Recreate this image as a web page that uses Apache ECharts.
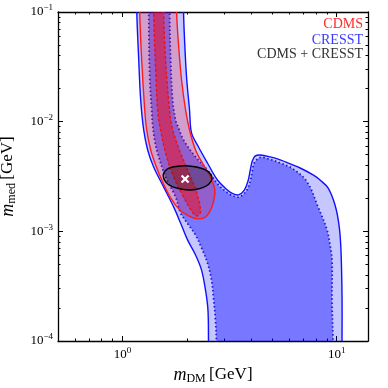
<!DOCTYPE html>
<html>
<head>
<meta charset="utf-8">
<script src="https://cdn.jsdelivr.net/npm/echarts@6/dist/echarts.min.js"></script>
<style>
  html, body { margin: 0; padding: 0; background: #fff; }
  #chart { width: 388px; height: 388px; }
</style>
</head>
<body>
<div id="chart"></div>
<script>
// tick values
const xMajorTicks = [1, 10];
const xMinorTicks = [0.5, 0.6, 0.7, 0.8, 0.9, 2, 3, 4, 5, 6, 7, 8, 9];
const yMajorTicks = [1e-4, 1e-3, 1e-2, 1e-1];
const yMinorTicks = [2e-4, 3e-4, 4e-4, 5e-4, 6e-4, 7e-4, 8e-4, 9e-4,
                     2e-3, 3e-3, 4e-3, 5e-3, 6e-3, 7e-3, 8e-3, 9e-3,
                     2e-2, 3e-2, 4e-2, 5e-2, 6e-2, 7e-2, 8e-2, 9e-2];

// CRESST 2 sigma region  [m_DM (GeV), m_med (GeV)]
const cresstOuter = [
  [1.165, 0.2], [1.166, 0.1], [1.191, 0.0365], [1.216, 0.0158], [1.256, 0.0084],
  [1.311, 0.00552], [1.398, 0.00386], [1.556, 0.00254], [1.733, 0.00167], [1.867, 0.00119],
  [2.012, 0.000835], [2.193, 0.000609], [2.338, 0.000445], [2.44, 0.000292], [2.506, 0.000192],
  [2.52, 0.0001], [2.52, 0.00005], [10.59, 0.00005], [10.59, 0.0001], [10.59, 0.000252],
  [10.47, 0.000677], [10.25, 0.001144], [9.82, 0.00174], [9.11, 0.002487], [8.36, 0.00294],
  [7.758, 0.00327], [6.751, 0.00378], [6.066, 0.00412], [5.449, 0.00448], [4.895, 0.00477],
  [4.399, 0.00497], [4.169, 0.00487], [4.036, 0.00438], [3.951, 0.00363], [3.867, 0.00294],
  [3.706, 0.00238], [3.475, 0.00215], [3.258, 0.002215], [3.089, 0.00238], [2.776, 0.00294],
  [2.493, 0.0042], [2.264, 0.00588], [2.101, 0.00789], [2.056, 0.01279], [1.991, 0.02556],
  [1.949, 0.0556], [1.928, 0.1], [1.928, 0.2]
];

// CRESST 1 sigma region
const cresstInner = [
  [1.326, 0.2], [1.326, 0.1], [1.34, 0.02556], [1.369, 0.01279], [1.383, 0.00933],
  [1.413, 0.00681], [1.459, 0.00518], [1.59, 0.00313], [1.77, 0.00206], [1.867, 0.00147],
  [2.034, 0.001144], [2.193, 0.000927], [2.338, 0.000706], [2.493, 0.000515], [2.603, 0.000361],
  [2.659, 0.000252], [2.716, 0.000156], [2.745, 0.0001], [2.745, 0.00005], [9.611, 0.00005],
  [9.611, 0.0001], [9.508, 0.000237], [9.508, 0.000548], [9.307, 0.000752], [9.013, 0.00103],
  [8.185, 0.00167], [7.276, 0.00282], [6.264, 0.0037], [5.449, 0.0042], [4.895, 0.00452],
  [4.399, 0.00472], [4.124, 0.0042], [4.036, 0.00356], [3.951, 0.00288], [3.786, 0.002335],
  [3.513, 0.00206], [3.294, 0.0021], [3.056, 0.00229], [2.805, 0.00265], [2.493, 0.00363],
  [2.193, 0.00477], [1.928, 0.00681], [1.827, 0.00876], [1.77, 0.01036], [1.714, 0.01577],
  [1.678, 0.0365], [1.66, 0.1], [1.66, 0.2]
];

// CDMS 2 sigma region
const cdmsOuter = [
  [1.203, 0.2], [1.203, 0.1], [1.229, 0.0365], [1.27, 0.01279], [1.297, 0.0084],
  [1.354, 0.00552], [1.428, 0.00403], [1.539, 0.00282], [1.678, 0.002016], [1.847, 0.00157],
  [2.034, 0.001382], [2.24, 0.0013], [2.44, 0.00135], [2.603, 0.001634], [2.688, 0.00206],
  [2.688, 0.002487], [2.575, 0.00313], [2.388, 0.00403], [2.193, 0.00552], [2.056, 0.0084],
  [1.97, 0.01279], [1.887, 0.024], [1.827, 0.05003], [1.789, 0.1], [1.789, 0.2]
];

// CDMS 1 sigma region
const cdmsInner = [
  [1.398, 0.2], [1.398, 0.1], [1.428, 0.0296], [1.459, 0.01279], [1.491, 0.00933],
  [1.59, 0.00518], [1.733, 0.00313], [1.928, 0.00206], [2.101, 0.001535], [2.216, 0.001382],
  [2.313, 0.0015], [2.216, 0.00229], [2.034, 0.003479], [1.827, 0.005759], [1.696, 0.00933],
  [1.642, 0.01577], [1.59, 0.0365], [1.556, 0.1], [1.556, 0.2]
];

// CDMS + CRESST combined region
const combinedRegion = [
  [1.548, 0.003266], [1.607, 0.003667], [1.714, 0.003864], [1.867, 0.003947], [2.034, 0.003947],
  [2.216, 0.003864], [2.414, 0.003667], [2.575, 0.003336], [2.617, 0.003004], [2.52, 0.002677],
  [2.313, 0.002461], [2.078, 0.00238], [1.867, 0.002435], [1.696, 0.002566], [1.59, 0.00282]
];

// best fit point
const bestFit = [[1.96, 0.003004]];

const serif = '"Liberation Serif", "DejaVu Serif", serif';

function powLabel(v) {
  const e = Math.round(Math.log10(v));
  return '{b|10}{s|' + (e < 0 ? '\u2212' + (-e) : e) + '}';
}

const labelRich = {
  b: { fontFamily: serif, fontSize: 13, color: '#000' },
  s: { fontFamily: serif, fontSize: 9, color: '#000', padding: [0, 0, 8, 0] }
};

const nameRich = {
  i: { fontFamily: serif, fontStyle: 'italic', fontSize: 18, color: '#000' },
  sub: { fontFamily: serif, fontSize: 12, color: '#000', padding: [8, 0, 0, 0] },
  t: { fontFamily: serif, fontSize: 17, color: '#000' }
};

function makeAxis(pos, min, max, ticks, len, showLine, label, extra) {
  return Object.assign({
    type: 'log',
    logBase: 10,
    min: min,
    max: max,
    position: pos,
    axisLine: { show: showLine, lineStyle: { color: '#000', width: 1.3 } },
    axisTick: { show: true, inside: true, length: len, customValues: ticks, lineStyle: { color: '#000', width: 1 } },
    axisLabel: label ? label : { show: false },
    splitLine: { show: false },
    minorTick: { show: false },
    axisPointer: { show: false }
  }, extra || {});
}

function regionSeries(points, fill, stroke, width, dash, z) {
  return {
    type: 'custom',
    coordinateSystem: 'cartesian2d',
    clip: true,
    silent: true,
    z: z,
    data: points,
    encode: { x: 0, y: 1 },
    renderItem: function (params, api) {
      if (params.dataIndex !== 0) return;
      const pts = points.map(function (p) { return api.coord(p); });
      return {
        type: 'polygon',
        shape: { points: pts, smooth: 0.35 },
        style: { fill: fill, stroke: stroke, lineWidth: width, lineDash: dash }
      };
    }
  };
}

const chart = echarts.init(document.getElementById('chart'), null, { renderer: 'canvas' });

chart.setOption({
  animation: false,
  backgroundColor: '#fff',
  grid: { left: 58, top: 12, right: 20, bottom: 47, containLabel: false, outerBoundsMode: 'none' },
  xAxis: [
    makeAxis('bottom', 0.5, 14, xMajorTicks, 5, true, {
      show: true, margin: 5, customValues: xMajorTicks, formatter: powLabel, rich: labelRich
    }, {
      name: '{i|m}{sub|DM} {t|[GeV]}',
      nameLocation: 'middle',
      nameGap: 17,
      nameTextStyle: { rich: nameRich }
    }),
    makeAxis('top', 0.5, 14, xMajorTicks, 5, true, null),
    makeAxis('bottom', 0.5, 14, xMinorTicks, 2.5, false, null),
    makeAxis('top', 0.5, 14, xMinorTicks, 2.5, false, null)
  ],
  yAxis: [
    makeAxis('left', 1e-4, 0.1, yMajorTicks, 5, true, {
      show: true, margin: 5, customValues: yMajorTicks, formatter: powLabel, rich: labelRich
    }, {
      name: '{i|m}{sub|med} {t|[GeV]}',
      nameLocation: 'middle',
      nameGap: 40,
      nameTextStyle: { rich: nameRich }
    }),
    makeAxis('right', 1e-4, 0.1, yMajorTicks, 5, true, null),
    makeAxis('left', 1e-4, 0.1, yMinorTicks, 2.5, false, null),
    makeAxis('right', 1e-4, 0.1, yMinorTicks, 2.5, false, null)
  ],
  graphic: [
    { type: 'text', right: 25, top: 17, style: { text: 'CDMS', fill: '#ff2a2a', font: '14px ' + serif } },
    { type: 'text', right: 25, top: 33, style: { text: 'CRESST', fill: '#3a3aff', font: '14px ' + serif } },
    { type: 'text', right: 25, top: 47, style: { text: 'CDMS + CRESST', fill: '#333', font: '14px ' + serif } }
  ],
  series: [
    regionSeries(cresstOuter, 'rgba(0,0,255,0.22)', '#1010ff', 1.4, null, 2),
    regionSeries(cresstInner, 'rgba(0,0,255,0.4)', '#1a1add', 1.8, [1.5, 2.5], 3),
    regionSeries(cdmsOuter, 'rgba(255,0,0,0.2)', '#ff1a1a', 1.4, null, 4),
    regionSeries(cdmsInner, 'rgba(255,0,0,0.45)', '#ee1111', 1.4, [3, 2], 5),
    regionSeries(combinedRegion, 'rgba(30,30,30,0.3)', '#000', 1.4, null, 6),
    {
      type: 'custom',
      coordinateSystem: 'cartesian2d',
      silent: true,
      z: 7,
      data: bestFit,
      encode: { x: 0, y: 1 },
      renderItem: function (params, api) {
        const c = api.coord([api.value(0), api.value(1)]);
        const r = 3.5;
        return {
          type: 'group',
          children: [
            { type: 'line', shape: { x1: c[0] - r, y1: c[1] - r, x2: c[0] + r, y2: c[1] + r }, style: { stroke: '#fff', lineWidth: 2.2 } },
            { type: 'line', shape: { x1: c[0] - r, y1: c[1] + r, x2: c[0] + r, y2: c[1] - r }, style: { stroke: '#fff', lineWidth: 2.2 } }
          ]
        };
      }
    }
  ]
});
</script>
</body>
</html>
